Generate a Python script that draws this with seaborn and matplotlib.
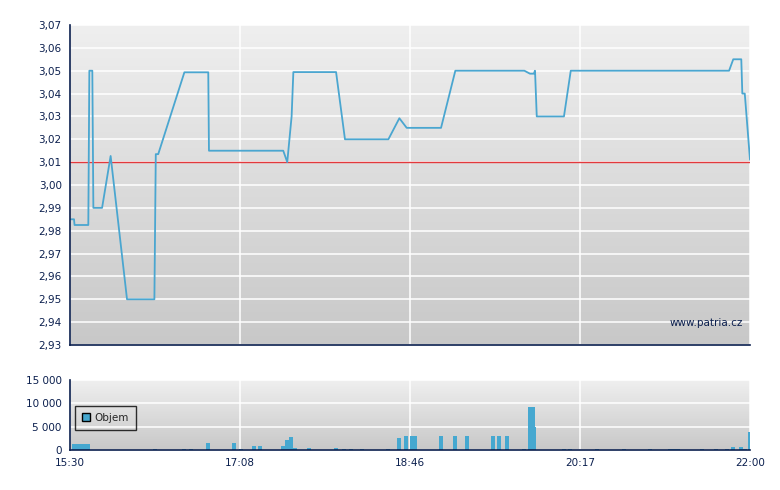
import numpy as np
import matplotlib
matplotlib.use("Agg")
import matplotlib.pyplot as plt
from matplotlib.colors import LinearSegmentedColormap
from matplotlib.patches import Patch
import seaborn as sns

# price trace: minutes from 15:30 (uniform axis scale) and price
price_t = [0.6, 2.3, 2.6, 10.5, 11.1, 12.8, 13.4, 18.4, 23.3, 32.7, 48.4, 49.2,
           50.6, 65.6, 79.3, 79.7, 122.3, 124.6, 127.1, 128.1, 152.6, 157.7,
           182.6, 188.9, 193.1, 212.8, 221.0, 260.6, 263.8, 266.0, 266.7, 267.7,
           283.3, 287.2, 378.0, 380.4, 385.0, 385.6, 387.0, 390.0]
price = [2.985, 2.985, 2.9825, 2.9825, 3.05, 3.05, 2.99, 2.99, 3.0127, 2.95, 2.95, 3.0135,
         3.0135, 3.0493, 3.0493, 3.015, 3.015, 3.01, 3.03, 3.0494, 3.0494, 3.02,
         3.02, 3.0292, 3.025, 3.025, 3.05, 3.05, 3.0487, 3.0487, 3.05, 3.03,
         3.03, 3.05, 3.05, 3.055, 3.055, 3.04, 3.04, 3.011]
ref_price = 3.01

# volume bars: left edge (minutes from 15:30) and volume
vol_t = [1.0, 3.3, 5.6, 7.9, 9.2, 47.6, 64.2, 68.3, 78.0, 92.9, 96.9, 104.4,
         107.8, 121.0, 123.3, 125.6, 127.9, 135.9, 151.4, 156.0, 160.0, 166.3,
         181.2, 187.5, 191.6, 195.0, 196.7, 211.6, 219.7, 226.5, 241.5, 244.9,
         249.5, 259.2, 265.0, 262.6, 264.3, 282.2, 285.6, 301.1, 316.6, 331.5,
         343.0, 345.3, 347.6, 361.3, 369.3, 375.7, 379.1, 383.7, 386.0, 388.9]
volume = [1300, 1300, 1300, 1300, 1300, 300, 300, 300, 1500, 1500, 300, 860,
          860, 860, 2140, 2790, 430, 430, 430, 200, 200, 200,
          200, 2570, 3000, 3000, 3000, 3000, 3000, 3000, 3000, 3000,
          3000, 200, 4930, 9200, 9200, 200, 200, 200, 200, 200,
          200, 200, 200, 200, 200, 200, 640, 640, 200, 3860]

time_labels = ["15:30", "17:08", "18:46", "20:17", "22:00"]
price_ticks = [2.93, 2.94, 2.95, 2.96, 2.97, 2.98, 2.99, 3.00, 3.01, 3.02, 3.03, 3.04, 3.05, 3.06, 3.07]
vol_ticks = [0, 5000, 10000, 15000]
legend_label = "Objem"
watermark = "www.patria.cz"

sns.set_theme(style="white")
plt.rcParams["font.family"] = ["DejaVu Sans"]

NAVY = "#0b1f4e"
LINE = "#4aa6d0"
BAR = "#46a8d0"
grad = LinearSegmentedColormap.from_list("bg", ["#c8c8c8", "#efefef"])

fig = plt.figure(figsize=(7.8, 4.9), dpi=100)
ax = fig.add_axes([70 / 780, 145 / 490, 680 / 780, 320 / 490])
axv = fig.add_axes([70 / 780, 40 / 490, 680 / 780, 70 / 490])


def style_axes(a):
    a.imshow(np.linspace(0, 1, 256)[:, None], extent=[0, 1, 0, 1], origin="lower",
             transform=a.transAxes, aspect="auto", cmap=grad, zorder=0)
    a.grid(True, color="white", lw=1.1, zorder=1)
    a.set_axisbelow(True)
    for s in ["top", "right"]:
        a.spines[s].set_visible(False)
    for s in ["left", "bottom"]:
        a.spines[s].set_color(NAVY)
        a.spines[s].set_linewidth(1.2)
        a.spines[s].set_zorder(5)
    a.tick_params(direction="out", length=4, width=1, color=NAVY, labelcolor=NAVY,
                  labelsize=7.5, pad=2)
    a.set_xlim(0, 390)
    a.set_xticks(np.linspace(0, 390, len(time_labels)))
    a.set_xlabel("")
    a.set_ylabel("")


# price panel
sns.lineplot(x=price_t, y=price, ax=ax, color=LINE, lw=1.3, estimator=None, zorder=3)
ax.axhline(ref_price, color="#e3393c", lw=1, zorder=2)
style_axes(ax)
ax.set_ylim(2.93, 3.07)
ax.set_yticks(price_ticks)
ax.set_yticklabels([f"{v:.2f}".replace(".", ",") for v in price_ticks])
ax.set_xticklabels([])
ax.text(0.99, 0.069, watermark, transform=ax.transAxes, ha="right", va="center",
        color=NAVY, fontsize=7.5, zorder=4)

# volume panel
axv.bar(vol_t, volume, width=2.3, align="edge", color=BAR, lw=0, zorder=3)
style_axes(axv)
axv.set_ylim(0, 15000)
axv.set_yticks(vol_ticks)
axv.set_yticklabels([f"{v:,}".replace(",", " ") for v in vol_ticks])
axv.set_xticklabels(time_labels)
leg = axv.legend(handles=[Patch(facecolor=BAR, edgecolor="black", lw=1, label=legend_label)],
                 loc="upper left", bbox_to_anchor=(0.007, 0.633), borderaxespad=0,
                 fontsize=7.5, frameon=True, fancybox=False, handlelength=0.8,
                 handleheight=0.8, handletextpad=0.4, borderpad=0.7)
leg.get_frame().set_edgecolor("black")
leg.get_frame().set_facecolor("none")
leg.get_frame().set_linewidth(1)

fig.savefig("out.png", dpi=100)
